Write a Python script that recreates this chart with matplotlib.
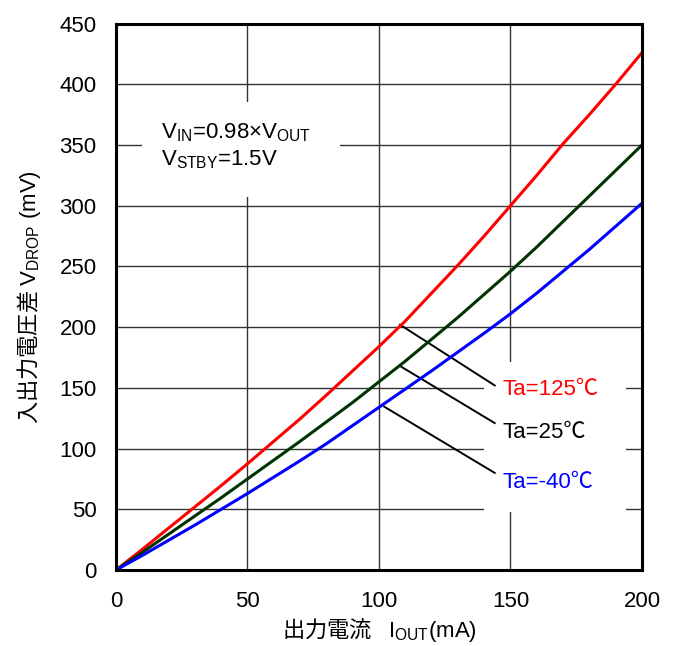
import matplotlib
matplotlib.use("Agg")
import matplotlib.pyplot as plt
from matplotlib.patches import Rectangle

plt.rcParams['font.family'] = ['Liberation Sans', 'Noto Sans CJK JP', 'DejaVu Sans']
plt.rcParams['mathtext.fontset'] = 'custom'
plt.rcParams['mathtext.rm'] = 'Liberation Sans'
plt.rcParams['mathtext.it'] = 'Liberation Sans'
plt.rcParams['font.size'] = 16

# output current (mA)
iout = [0, 10, 20, 30, 40, 50, 60, 70, 80, 90, 100,
        110, 120, 130, 140, 150, 160, 170, 180, 190, 200]
# dropout voltage (mV) per temperature
vdrop_125 = [0, 17, 34.5, 52, 69.5, 87.5, 106, 124.5, 144, 164, 184,
             205, 228, 251, 275, 300, 325, 351, 375, 400, 426]
vdrop_25 = [0, 14.5, 29.5, 44.5, 59.5, 75, 90.5, 106, 122, 138, 155,
            172, 190, 208, 227, 246, 266, 287, 308, 329, 350]
vdrop_m40 = [0, 12, 24.5, 37, 50, 63, 76.5, 90, 104, 119, 134,
             149, 164, 179.5, 195, 211, 228, 246, 264, 283, 302]

labels = ["Ta=125℃", "Ta=25℃", "Ta=-40℃"]
colors = ["#ff0000", "#003300", "#0000ff"]
label_colors = ["#ff0000", "#000000", "#0000ff"]

# leader lines: start on curve -> end near label
leader_start = [(108, 202), (108, 168), (102, 134.5)]
leader_end = [(144, 152), (144, 121), (144, 80)]
label_y = [149, 113, 72]

fig = plt.figure(figsize=(6.81, 6.46), dpi=100)
ax = fig.add_axes([0.1703, 0.1176, 0.7724, 0.846])

ax.set_xlim(0, 200)
ax.set_ylim(0, 450)
ax.set_xticks([0, 50, 100, 150, 200])
ax.set_yticks(range(0, 451, 50))
ax.tick_params(length=0, pad=15, labelsize=16)
ax.tick_params(axis='y', pad=14)
ax.grid(True, color='#333333', linewidth=1.0, zorder=1)
for s in ax.spines.values():
    s.set_linewidth(2.2)
    s.set_color('black')
    s.set_zorder(6)

# white boxes behind annotations
ax.add_patch(Rectangle((10, 307), 75, 78, facecolor='white', edgecolor='none', zorder=2))
ax.add_patch(Rectangle((140, 48), 54, 123, facecolor='white', edgecolor='none', zorder=2))

for ys, c in zip([vdrop_125, vdrop_25, vdrop_m40], colors):
    ax.plot(iout, ys, color=c, linewidth=2.2, zorder=4)

for (x0, y0), (x1, y1), ly, lab, lc in zip(leader_start, leader_end, label_y, labels, label_colors):
    ax.plot([x0, x1], [y0, y1], color='black', linewidth=1.4, zorder=3)
    ax.text(147, ly, lab, color=lc, fontsize=16, va='center', ha='left', zorder=5)

ax.text(17, 360, r"V$_{\mathrm{IN}}$=0.98×V$_{\mathrm{OUT}}$", fontsize=16, va='center', zorder=5)
ax.text(17, 338, r"V$_{\mathrm{STBY}}$=1.5V", fontsize=16, va='center', zorder=5)

ax.set_xlabel(r"出力電流 $\mathrm{\ \ I_{OUT}(mA)}$", fontsize=16, labelpad=3,
              family='Noto Sans CJK JP')
ax.set_ylabel(r"入出力電圧差 $\mathrm{V_{DROP}\ (mV)}$", fontsize=16, labelpad=12,
              family='Noto Sans CJK JP')

fig.savefig("out.png", dpi=100)
